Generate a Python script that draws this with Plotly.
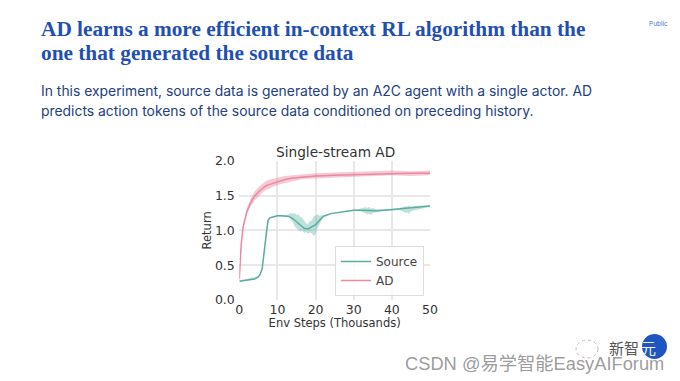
import plotly.graph_objects as go

title_lines = ["AD learns a more efficient in-context RL algorithm than the",
               "one that generated the source data"]
body_lines = ["In this experiment, source data is generated by an A2C agent with a single actor. AD",
              "predicts action tokens of the source data conditioned on preceding history."]

x_source = [0, 1, 2, 3, 4, 5, 5.5, 6, 6.5, 7, 7.5, 8, 9, 10, 11, 12, 13, 14, 15, 16, 17, 18, 19, 20, 21, 22, 24, 26, 28, 30, 32, 34, 36, 38, 40, 42, 44, 46, 48, 50]
source = [0.27, 0.28, 0.285, 0.29, 0.30, 0.33, 0.37, 0.45, 0.68, 0.98, 1.14, 1.18, 1.20, 1.21, 1.21, 1.21, 1.20, 1.17, 1.12, 1.08, 1.03, 1.02, 1.05, 1.08, 1.14, 1.20, 1.24, 1.26, 1.28, 1.29, 1.29, 1.28, 1.28, 1.29, 1.30, 1.31, 1.31, 1.32, 1.33, 1.35]

x_band = [0, 5, 6, 7, 8, 10, 12, 13, 13.5, 14, 14.5, 15, 15.5, 16, 16.5, 17, 17.5, 18, 18.5, 19, 19.5, 20, 20.5, 21, 22, 24, 28, 31, 32, 33, 33.5, 34, 34.5, 35, 36, 38, 41, 42, 43, 43.5, 44, 44.5, 45, 46, 48, 50]
source_hi = [0.28, 0.34, 0.47, 1.01, 1.19, 1.22, 1.22, 1.23, 1.25, 1.24, 1.25, 1.22, 1.23, 1.19, 1.18, 1.13, 1.10, 1.09, 1.13, 1.14, 1.20, 1.21, 1.23, 1.21, 1.22, 1.25, 1.285, 1.30, 1.31, 1.33, 1.32, 1.34, 1.31, 1.32, 1.30, 1.30, 1.31, 1.32, 1.33, 1.35, 1.34, 1.36, 1.34, 1.35, 1.35, 1.36]
source_lo = [0.26, 0.32, 0.43, 0.95, 1.17, 1.20, 1.20, 1.19, 1.15, 1.12, 1.06, 1.03, 1.00, 0.98, 1.00, 0.96, 0.98, 0.95, 0.97, 0.96, 0.92, 0.95, 1.03, 1.07, 1.18, 1.23, 1.275, 1.28, 1.27, 1.25, 1.23, 1.24, 1.22, 1.25, 1.26, 1.28, 1.29, 1.29, 1.27, 1.25, 1.26, 1.24, 1.27, 1.29, 1.32, 1.34]

x_ad = [0, 0.2, 0.5, 1, 1.5, 2, 3, 4, 5, 6, 7, 8, 10, 12, 14, 16, 18, 20, 25, 30, 35, 40, 45, 50]
ad = [0.30, 0.55, 0.80, 1.05, 1.18, 1.27, 1.40, 1.49, 1.55, 1.60, 1.64, 1.66, 1.70, 1.73, 1.75, 1.76, 1.77, 1.78, 1.79, 1.80, 1.81, 1.82, 1.82, 1.82]
ad_hi = [0.32, 0.58, 0.84, 1.09, 1.22, 1.32, 1.46, 1.56, 1.62, 1.67, 1.71, 1.73, 1.76, 1.78, 1.79, 1.80, 1.81, 1.82, 1.83, 1.84, 1.85, 1.86, 1.85, 1.86]
ad_lo = [0.28, 0.52, 0.76, 1.01, 1.14, 1.23, 1.35, 1.43, 1.49, 1.54, 1.58, 1.60, 1.65, 1.68, 1.71, 1.73, 1.74, 1.75, 1.76, 1.77, 1.78, 1.79, 1.78, 1.79]

x_ticks = [0, 10, 20, 30, 40, 50]
y_ticks = [0.0, 0.5, 1.0, 1.5, 2.0]
y_tick_labels = ["0.0", "0.5", "1.0", "1.5", "2.0"]

W, H = 680, 381
TEAL = "#5aaea1"
PINK = "#e98a9f"
BLUE = "#1f4fb4"
NAVY = "#24407f"

fig = go.Figure()
fig.add_trace(go.Scatter(x=x_band + x_band[::-1], y=source_hi + source_lo[::-1], fill="toself",
                         fillcolor="rgba(95,179,166,0.40)", line=dict(width=0), hoverinfo="skip", showlegend=False))
fig.add_trace(go.Scatter(x=x_ad + x_ad[::-1], y=ad_hi + ad_lo[::-1], fill="toself",
                         fillcolor="rgba(233,138,159,0.45)", line=dict(width=0), hoverinfo="skip", showlegend=False))
fig.add_trace(go.Scatter(x=x_source, y=source, mode="lines", name="Source", line=dict(color=TEAL, width=1.5)))
fig.add_trace(go.Scatter(x=x_ad, y=ad, mode="lines", name="AD", line=dict(color=PINK, width=1.5)))

annotations = []
def text(s, px, py, size, color, family, anchor="left"):
    annotations.append(dict(text=s, x=px / W, y=1 - py / H, xref="paper", yref="paper", xanchor=anchor,
                            yanchor="middle", showarrow=False, font=dict(size=size, color=color, family=family)))

for s, py in zip(title_lines, [29, 53]):
    text(f"<b>{s}</b>", 39, py, 21.3, BLUE, "Liberation Serif")
for s, py in zip(body_lines, [91, 111]):
    text(s, 39, py, 13.9, NAVY, "Inter")
text("Public", 647, 24, 6.5, "#4a78c8", "Inter")
text("Single-stream AD", 335, 152, 13.7, "#333333", "DejaVu Sans", "center")
text("新智", 624, 347, 15, "#555555", "Noto Sans CJK SC", "center")
text("元", 648, 347, 15, "#eeeeee", "Noto Sans CJK SC", "center")
text("CSDN @易学智能EasyAIForum", 534, 363, 18.3, "rgba(130,130,130,0.8)", "Liberation Sans, Noto Sans CJK SC", "center")

shapes = [dict(type="circle", xref="paper", yref="paper", x0=642 / W, x1=667 / W, y0=1 - 359 / H, y1=1 - 334 / H,
               fillcolor="#1f55c0", line=dict(width=0), layer="below"),
          dict(type="circle", xref="paper", yref="paper", x0=576 / W, x1=598 / W, y0=1 - 358 / H, y1=1 - 340 / H,
               fillcolor="rgba(0,0,0,0)", line=dict(width=1, color="#bbbbbb", dash="dot"), layer="below")]

fig.update_layout(
    width=W, height=H, margin=dict(l=0, r=0, t=0, b=0, autoexpand=False), paper_bgcolor="white", plot_bgcolor="white",
    showlegend=True, annotations=annotations, shapes=shapes,
    font=dict(family="DejaVu Sans", color="#333333"),
    legend=dict(x=424 / W, y=1 - 296 / H, xanchor="right", yanchor="bottom", bgcolor="rgba(255,255,255,0.85)",
                bordercolor="#dddddd", borderwidth=1, itemwidth=30, font=dict(size=12, color="#444444")),
    xaxis=dict(domain=[239.3 / W, 430 / W], range=[0, 50], tickvals=x_ticks, gridcolor="#e8e8e8", gridwidth=1.5,
               zeroline=False, showline=False, ticks="", tickfont=dict(size=12.5, color="#333333"),
               title=dict(text="Env Steps (Thousands)", font=dict(size=11.5, color="#333333"), standoff=0)),
    yaxis=dict(domain=[1 - 300 / H, 1 - 160.7 / H], range=[0, 2], tickvals=y_ticks, ticktext=y_tick_labels,
               gridcolor="#e8e8e8", gridwidth=1.5, zeroline=False, showline=False, ticks="outside", ticklen=1,
               tickcolor="rgba(0,0,0,0)", tickfont=dict(size=12.5, color="#333333"),
               title=dict(text="Return", font=dict(size=11.5, color="#333333"), standoff=0)),
)
fig.write_html("out.html", config=dict(displayModeBar=False),
               post_script="document.body.style.margin='0';document.documentElement.style.overflow='hidden';")
